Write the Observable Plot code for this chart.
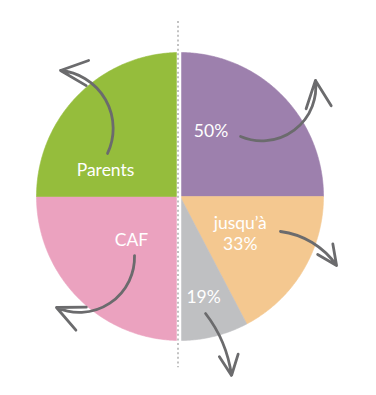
<!DOCTYPE html>
<html><head><meta charset="utf-8">
<script src="https://cdn.jsdelivr.net/npm/d3@7"></script>
<script src="https://cdn.jsdelivr.net/npm/@observablehq/plot@0.6"></script>
<style>body{margin:0;background:#fff}</style>
</head><body><div id="chart"></div>
<script>
// Slices, clockwise from 12 o'clock
const slices = ["violet", "orange", "gris", "rose", "vert"];
const shares = [25, 17.3, 7.7, 25, 25];
const colors = ["#9d80ad", "#f4c890", "#bfc0c2", "#eba2bf", "#95bd3c"];
const labels = ["50%", "jusqu’à\n33%", "19%", "CAF", "Parents"];

// Annotation anchors in unit-circle coordinates (pie radius = 1)
const labelX = [0.216, 0.42, 0.164, -0.338, -0.519];
const labelY = [0.458, -0.25, -0.691, -0.295, 0.19];
const arrowX1 = [0.422, 0.700, 0.178, -0.317, -0.505];
const arrowY1 = [0.417, -0.243, -0.8125, -0.410, 0.299];
const arrowX2 = [0.944, 1.091, 0.359, -0.861, -0.833];
const arrowY2 = [0.806, -0.479, -1.243, -0.771, 0.875];
const arrowBend = [-60, 24, 15, 58, -55];

const arcs = d3.pie().sort(null).value(d => d)(shares);
const polys = [];
arcs.forEach((a, i) => {
  polys.push({slice: slices[i], x: 0, y: 0});
  const n = Math.max(2, Math.ceil((a.endAngle - a.startAngle) / 0.01));
  for (let k = 0; k <= n; k++) {
    const t = a.startAngle + (a.endAngle - a.startAngle) * k / n;
    polys.push({slice: slices[i], x: Math.sin(t), y: Math.cos(t)});
  }
  polys.push({slice: slices[i], x: 0, y: 0});
});

const labelData = labels.map((t, i) => ({text: t, x: labelX[i], y: labelY[i]}));
const arrowData = arrowX1.map((_, i) => ({x1: arrowX1[i], y1: arrowY1[i], x2: arrowX2[i], y2: arrowY2[i], bend: arrowBend[i]}));

const chart = Plot.plot({
  width: 376,
  height: 395,
  margin: 0,
  x: {domain: [-1, 1], range: [36, 323], axis: null},
  y: {domain: [-1, 1], range: [340, 52], axis: null},
  color: {domain: slices, range: colors},
  marks: [
    Plot.line(polys, {x: "x", y: "y", z: "slice", fill: "slice", stroke: "slice", strokeWidth: 0.6, curve: "linear"}),
    Plot.ruleX([-0.007], {y1: -1.05, y2: 1.05, stroke: "white", strokeWidth: 4.5}),
    Plot.ruleX([-0.014], {y1: 1.215, y2: -1.19, stroke: "#c2c2c2", strokeWidth: 2, strokeDasharray: "2 2.6"}),
    Plot.text(labelData, {x: "x", y: "y", text: "text", fill: "white", fontSize: 17.5, fontFamily: "Lato", lineHeight: 1.22}),
    ...arrowData.map(a => Plot.arrow([a], {x1: "x1", y1: "y1", x2: "x2", y2: "y2", bend: a.bend, stroke: "#6b6b6d", strokeWidth: 2.8, headLength: 16, headAngle: 50}))
  ]
});
document.getElementById("chart").appendChild(chart);
</script>
</body></html>
